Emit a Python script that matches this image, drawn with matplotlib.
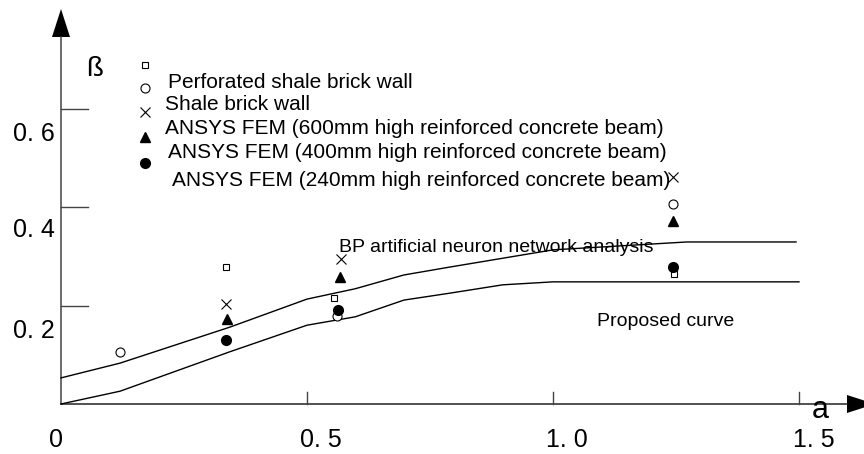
import matplotlib
matplotlib.use("Agg")
import matplotlib.pyplot as plt

plt.rcParams['font.family'] = ['Liberation Sans', 'DejaVu Sans']

# ---------------- data ----------------
bp_x = [0.0, 0.12, 0.343, 0.5, 0.598, 0.697, 0.79, 0.898, 1.0, 1.272, 1.494]
bp_y = [0.053, 0.083, 0.156, 0.213, 0.234, 0.262, 0.278, 0.296, 0.313, 0.329, 0.329]

prop_x = [0.0, 0.12, 0.343, 0.5, 0.598, 0.697, 0.79, 0.898, 1.0, 1.5]
prop_y = [0.0, 0.026, 0.106, 0.160, 0.177, 0.211, 0.225, 0.242, 0.248, 0.248]

perf_x = [0.335, 0.555, 1.246]          # open squares
perf_y = [0.278, 0.215, 0.264]
circ_x = [0.12, 0.560, 1.244]           # open circles
circ_y = [0.106, 0.179, 0.406]
shale_x = [0.335, 0.569, 1.244]         # crosses
shale_y = [0.203, 0.294, 0.461]
f600_x = [0.337, 0.567, 1.244]          # filled triangles
f600_y = [0.173, 0.258, 0.372]
f400_x = [0.335, 0.562, 1.244]          # filled circles
f400_y = [0.130, 0.191, 0.278]

legend_labels = [
    "Perforated shale brick wall",
    "Shale brick wall",
    "ANSYS FEM (600mm high reinforced concrete beam)",
    "ANSYS FEM (400mm high reinforced concrete beam)",
    "ANSYS FEM (240mm high reinforced concrete beam)",
]
ytick_vals = [0.2, 0.4, 0.6]
ytick_labels = ["0. 2", "0. 4", "0. 6"]
xtick_vals = [0.5, 1.0, 1.5]
xtick_labels = ["0", "0. 5", "1. 0", "1. 5"]
xlabel_pos = [0.0, 0.5, 1.0, 1.5]

# ---------------- figure ----------------
W, H = 864, 454
fig = plt.figure(figsize=(W / 100, H / 100), dpi=100)
ax = fig.add_axes([0, 0, 1, 1])
sx = 492.0   # px per unit x
sy = 492.5   # px per unit y
x0px, y0px = 61, 404
ax.set_xlim(-x0px / sx, (W - x0px) / sx)
ax.set_ylim(-(H - y0px) / sy, y0px / sy)
ax.axis('off')

axcol = '#222222'
# axes with arrows
ax.plot([0, (847 - x0px) / sx], [0, 0], color=axcol, lw=1.1)
ax.plot([0, 0], [0, (y0px - 37) / sy], color='#444444', lw=1.1)
ax.fill([(847 - x0px) / sx, (847 - x0px) / sx, (875 - x0px) / sx],
        [9 / sy, -9 / sy, 0], color='black', lw=0)
ax.fill([-9 / sx, 9 / sx, 0],
        [(y0px - 37) / sy, (y0px - 37) / sy, (y0px - 9) / sy], color='black', lw=0)

# ticks
for v in ytick_vals:
    ax.plot([0, 27 / sx], [v, v], color='#444444', lw=1.0)
for v in xtick_vals:
    ax.plot([v, v], [0, 12 / sy], color='#444444', lw=1.0)

# tick labels
ylab_off = [-26, -23, -25]
for v, t, o in zip(ytick_vals, ytick_labels, ylab_off):
    ax.text(-27 / sx, v + o / sy, t, ha='center', va='center', fontsize=18)
xlab_off = [-5, 14, 14, 15]
for v, t, o in zip(xlabel_pos, xtick_labels, xlab_off):
    ax.text(v + o / sx, -36 / sy, t, ha='center', va='center', fontsize=18)

# axis labels
ax.text((95 - x0px) / sx, (y0px - 69) / sy, "ß", ha='center', va='center', fontsize=20)
ax.text((820 - x0px) / sx, (y0px - 410) / sy, "a", ha='center', va='center', fontsize=22)

# curves
ax.plot(bp_x, bp_y, color='black', lw=1.0)
ax.plot(prop_x, prop_y, color='black', lw=1.0)

# data points
ax.plot(perf_x, perf_y, ls='none', marker='s', ms=4.5, mfc='white', mec='black', mew=0.8)
ax.plot(circ_x, circ_y, ls='none', marker='o', ms=6.5, mfc='white', mec='black', mew=0.8)
ax.plot(shale_x, shale_y, ls='none', marker='x', ms=7, color='black', mew=0.8)
ax.plot(f600_x, f600_y, ls='none', marker='^', ms=7, color='black')
ax.plot(f400_x, f400_y, ls='none', marker='o', ms=7, color='black')

# legend (manual, as in the reference)
lx = (145 - x0px) / sx
leg_y_px = [65, 88, 112, 137, 163]
leg_styles = [
    dict(marker='s', ms=5, mfc='white', mec='black', mew=0.8),
    dict(marker='o', ms=6.5, mfc='white', mec='black', mew=0.8),
    dict(marker='x', ms=7, color='black', mew=0.8),
    dict(marker='^', ms=6.5, color='black'),
    dict(marker='o', ms=7, color='black'),
]
for ypx, st in zip(leg_y_px, leg_styles):
    ax.plot([lx], [(y0px - ypx) / sy], ls='none', **st)

txt_pos = [(168, 82), (165, 105), (165, 129), (168, 153), (172, 180)]
for (px, py), lab in zip(txt_pos, legend_labels):
    ax.text((px - x0px) / sx, (y0px - py) / sy, lab, ha='left', va='center', fontsize=15)

ax.text((339 - x0px) / sx, (y0px - 248) / sy, "BP artificial neuron network analysis",
        ha='left', va='center', fontsize=14)
ax.text((597 - x0px) / sx, (y0px - 321) / sy, "Proposed curve",
        ha='left', va='center', fontsize=14)

fig.savefig("out.png", dpi=100)
